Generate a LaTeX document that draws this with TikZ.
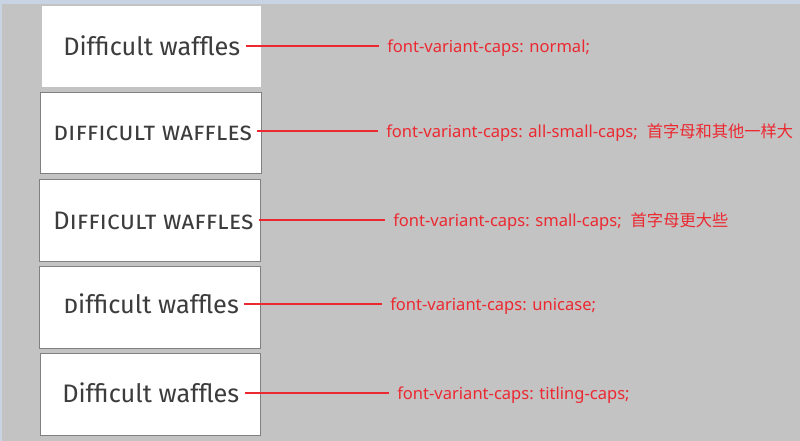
\documentclass[tikz,border=0pt]{standalone}
\usepackage{fontspec}
\newfontfamily\wafflefont{Fira Sans}
\newfontfamily\notefont{Noto Sans}
\newfontfamily\cjk{Noto Sans CJK SC}
\usepackage{tikz}
\usetikzlibrary{positioning,calc}
\newlength\pxu \setlength\pxu{0.75pt}
\definecolor{bggray}{RGB}{195,195,195}
\definecolor{bgblue}{RGB}{200,211,228}
\definecolor{inkgray}{RGB}{60,60,60}
\definecolor{notered}{RGB}{236,40,48}
\definecolor{edgegray}{RGB}{128,128,128}

\begin{document}
\begin{tikzpicture}[x=1\pxu,y=-1\pxu,
  sample/.style={fill=white,draw=edgegray,line width=1\pxu,minimum width=221\pxu,minimum height=82\pxu,inner sep=0pt},
  waffle/.style={anchor=west,inner xsep=5\pxu,inner ysep=0pt,text height=20\pxu,text depth=0pt,text=inkgray,font=\wafflefont\fontsize{19}{21}\selectfont},
  note/.style={anchor=west,inner xsep=8\pxu,inner ysep=0pt,text height=14\pxu,text depth=0pt,text=notered,font=\notefont\fontsize{12.4}{14}\selectfont},
  link/.style={draw=notered,line width=2\pxu}]
\useasboundingbox (0,0) rectangle (800,441);
\fill[bggray] (0,0) rectangle (800,441); \fill[bgblue] (0,0) rectangle (800,4); \fill[bgblue] (0,0) rectangle (2,441);

\node[sample,draw=none,minimum width=219\pxu,minimum height=81\pxu] (b1) at (151.5,46.5) {};
\node[sample,minimum height=81\pxu] (b2) at (150.5,133.5) {};
\node[sample] (b3) at (149.5,221) {};
\node[sample] (b4) at (149.5,308) {};
\node[sample,minimum width=220\pxu] (b5) at (150,395) {};

\node[waffle] (s1) at (58,46) {Difficult waffles};
\node[waffle] (s2) at (48,131) {\addfontfeatures{Letters={SmallCaps,UppercaseSmallCaps}}Difficult waffles};
\node[waffle] (s3) at (48,220) {\addfontfeatures{Letters=SmallCaps}Difficult waffles};
\node[waffle] (s4) at (58,304) {{\addfontfeatures{Letters=UppercaseSmallCaps}D}ifficult waffles};
\node[waffle] (s5) at (57,393) {Difficult waffles};

\node[note] (a1) at (379,46) {font-variant-caps: normal;};
\node[note] (a2) at (378,131) {font-variant-caps: all-small-caps;\hspace{9\pxu}{\cjk\fontsize{12.2}{14}\selectfont 首字母和其他一样大}};
\node[note] (a3) at (385,220) {font-variant-caps: small-caps;\hspace{9\pxu}{\cjk\fontsize{12.2}{14}\selectfont 首字母更大些}};
\node[note] (a4) at (382,304) {font-variant-caps: unicase;};
\node[note] (a5) at (389,393) {font-variant-caps: titling-caps;};

\draw[link] (s1) -- (a1); \draw[link] (s2) -- (a2); \draw[link] (s3) -- (a3);
\draw[link] (s4) -- (a4); \draw[link] (s5) -- (a5);
\end{tikzpicture}
\end{document}
